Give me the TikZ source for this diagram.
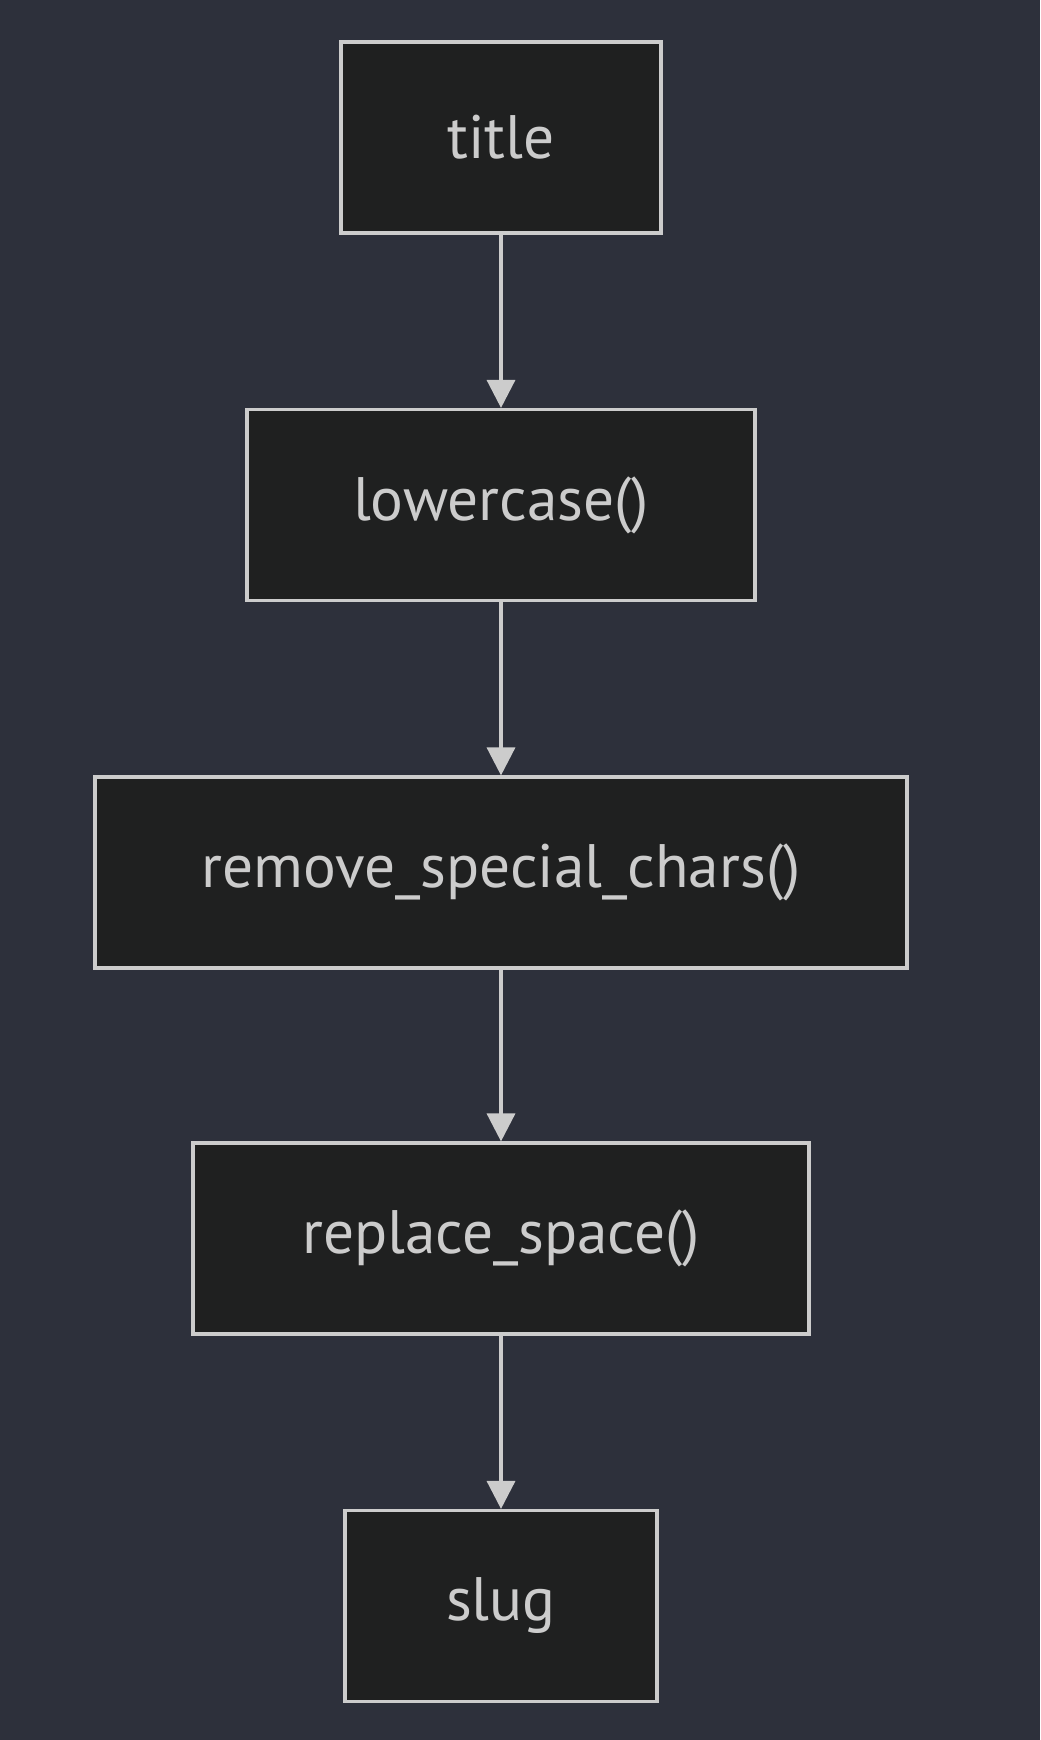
\documentclass[tikz,border=0pt]{standalone}
\usepackage{fontspec}
\setmainfont{PT Sans}
\usetikzlibrary{arrows.meta}

\definecolor{bgcol}{HTML}{2D303B}
\definecolor{boxfill}{HTML}{1F2020}
\definecolor{edgecol}{HTML}{CCCCCC}

\begin{document}
\begin{tikzpicture}[x=0.75pt, y=-0.75pt,
    stepbox/.style={draw=edgecol, fill=boxfill, line width=2.6pt, rectangle,
        minimum height=143pt, inner sep=0pt, text=edgecol,
        font=\fontsize{46}{54}\selectfont},
    flow/.style={draw=edgecol, line width=2.6pt, -{Triangle[width=21pt,length=21pt]}}
]

% background and page size
\fill[bgcol] (0,0) rectangle (1040,1740);
\useasboundingbox (0,0) rectangle (1040,1740);

% Pipeline steps
\node[stepbox, minimum width=240pt] (title) at (501,137.5) {title};
\node[stepbox, minimum width=381pt] (lower) at (501,505) {lowercase()};
\node[stepbox, minimum width=609pt] (special) at (501,872.5) {remove\_special\_chars()};
\node[stepbox, minimum width=462pt] (space) at (501,1238.5) {replace\_space()};
\node[stepbox, minimum width=234pt] (slug) at (501,1606) {slug};

% Connectors
\draw[flow] (title) -- (lower);
\draw[flow] (lower) -- (special);
\draw[flow] (special) -- (space);
\draw[flow] (space) -- (slug);

\end{tikzpicture}
\end{document}
